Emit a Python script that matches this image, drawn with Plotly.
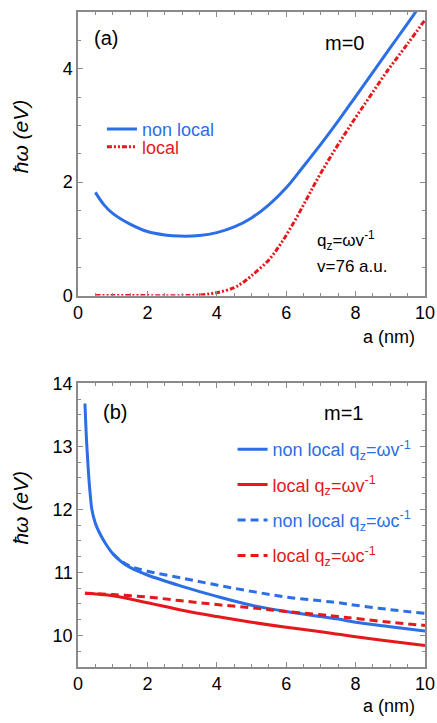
import plotly.graph_objects as go
from plotly.subplots import make_subplots

BLUE = "#2B6EE6"
RED = "#E5191B"

# Panel (a), m=0
a_nl_x = [0.5, 0.75, 1.0, 1.5, 2.0, 2.5, 2.93, 3.5, 4.0, 4.5, 5.0, 5.5, 6.0, 6.5, 7.0, 7.5, 8.0, 8.5, 9.0, 9.5, 9.73, 10.0]
a_nl_y = [1.82, 1.6, 1.45, 1.26, 1.13, 1.07, 1.05, 1.06, 1.11, 1.21, 1.37, 1.6, 1.9, 2.28, 2.67, 3.08, 3.51, 3.94, 4.37, 4.8, 5.0, 5.23]
a_l_x = [0.5, 1.0, 2.0, 3.0, 3.5, 3.98, 4.5, 4.75, 5.0, 5.5, 5.85, 6.2, 6.57, 6.85, 7.3, 7.85, 8.4, 8.96, 9.5, 10.0]
a_l_y = [0.0, 0.0, 0.0, 0.0, 0.01, 0.05, 0.14, 0.23, 0.35, 0.63, 0.92, 1.27, 1.68, 2.0, 2.47, 3.0, 3.5, 4.0, 4.44, 4.86]

# Panel (b), m=1
b_nlv_x = [0.2, 0.25, 0.3, 0.35, 0.4, 0.5, 0.6, 0.77, 1.0, 1.25, 1.5, 2.0, 3.0, 4.0, 5.0, 6.0, 7.0, 7.5, 8.0, 9.0, 10.0]
b_nlv_y = [13.68, 13.05, 12.6, 12.25, 12.0, 11.78, 11.65, 11.48, 11.3, 11.17, 11.08, 10.96, 10.78, 10.62, 10.48, 10.38, 10.3, 10.26, 10.21, 10.14, 10.07]
b_nlc_x = [1.0, 1.25, 1.5, 2.0, 3.0, 4.0, 5.0, 6.0, 7.0, 7.5, 8.0, 9.0, 10.0]
b_nlc_y = [11.3, 11.18, 11.1, 11.02, 10.91, 10.8, 10.7, 10.61, 10.55, 10.52, 10.48, 10.41, 10.35]
b_l_x = [0.2, 1.0, 2.0, 3.0, 4.0, 5.0, 6.0, 7.0, 7.5, 8.0, 9.0, 10.0]
b_lv_y = [10.67, 10.63, 10.52, 10.4, 10.3, 10.21, 10.13, 10.06, 10.02, 9.98, 9.91, 9.84]
b_lc_y = [10.67, 10.65, 10.61, 10.55, 10.49, 10.44, 10.38, 10.33, 10.3, 10.27, 10.21, 10.16]

x_ticks = [0, 2, 4, 6, 8, 10]
ya_ticks = [0, 2, 4]
yb_ticks = [10, 11, 12, 13, 14]

FONT = "Liberation Sans, Arial, Helvetica, sans-serif"

fig = make_subplots(rows=2, cols=1, vertical_spacing=0.0)

def lbl(text, color):
    return f"<span style='color:{color}'>{text}</span>"

fig.add_trace(go.Scatter(x=a_nl_x, y=a_nl_y, mode="lines", line=dict(color=BLUE, width=3, shape="spline"),
                         name=lbl("non local", BLUE), legend="legend"), row=1, col=1)
fig.add_trace(go.Scatter(x=a_l_x, y=a_l_y, mode="lines",
                         line=dict(color=RED, width=3, dash="5px,2px,2px,2px,2px,2px", shape="spline"),
                         name=lbl("local", RED), legend="legend3"), row=1, col=1)

qv = "q<sub>z</sub>=ωv<sup>-1</sup>"
qc = "q<sub>z</sub>=ωc<sup>-1</sup>"
fig.add_trace(go.Scatter(x=b_nlv_x, y=b_nlv_y, mode="lines", line=dict(color=BLUE, width=3, shape="spline"),
                         name=lbl("non local " + qv, BLUE), legend="legend2", legendgroup="b1"), row=2, col=1)
fig.add_trace(go.Scatter(x=b_l_x, y=b_lv_y, mode="lines", line=dict(color=RED, width=3, shape="spline"),
                         name=lbl("local " + qv, RED), legend="legend2", legendgroup="b2"), row=2, col=1)
fig.add_trace(go.Scatter(x=b_nlc_x, y=b_nlc_y, mode="lines", line=dict(color=BLUE, width=3, dash="8px,5px", shape="spline"),
                         name=lbl("non local " + qc, BLUE), legend="legend2", legendgroup="b3"), row=2, col=1)
fig.add_trace(go.Scatter(x=b_l_x, y=b_lc_y, mode="lines", line=dict(color=RED, width=3, dash="8px,5px", shape="spline"),
                         name=lbl("local " + qc, RED), legend="legend2", legendgroup="b4"), row=2, col=1)

axis_common = dict(showline=True, linecolor="#8a8a8a", linewidth=1.5, mirror="allticks",
                   ticks="inside", ticklen=5, tickcolor="#8a8a8a", tickwidth=1,
                   showgrid=False, zeroline=False,
                   tickfont=dict(family=FONT, size=18, color="black"))

fig.update_xaxes(range=[0, 10], tickvals=x_ticks, minor=dict(dtick=0.5, ticks="inside", ticklen=3, tickcolor="#8a8a8a"),
                 **axis_common)
fig.update_yaxes(range=[0, 5], tickvals=ya_ticks, minor=dict(dtick=0.5, ticks="inside", ticklen=3, tickcolor="#8a8a8a"),
                 row=1, col=1, **axis_common)
fig.update_yaxes(range=[9.5, 14], tickvals=yb_ticks, minor=dict(dtick=0.25, ticks="inside", ticklen=3, tickcolor="#8a8a8a"),
                 row=2, col=1, **axis_common)

W = 437 - 78 - 11
H = 723 - 2 - 56
def px(xp):
    return (xp - 78) / W
def py(yp):
    return (723 - 56 - yp) / H

leg_common = dict(xanchor="left", yanchor="middle", bgcolor="rgba(0,0,0,0)",
                  font=dict(family=FONT, size=18), itemwidth=30)

fig.update_layout(
    width=437, height=723,
    margin=dict(l=78, r=11, t=2, b=56),
    plot_bgcolor="white", paper_bgcolor="white",
    font=dict(family=FONT, size=18, color="black"),
    showlegend=True,
    legend=dict(x=px(102), y=py(121), **leg_common),
    legend3=dict(x=px(102), y=py(139), **leg_common),
    legend2=dict(x=px(233), y=py(500), tracegroupgap=9, traceorder="grouped", **leg_common),
)
fig.update_layout(
    xaxis=dict(domain=[0, 1], anchor="y"),
    yaxis=dict(domain=[0.567, 1.0]),
    xaxis2=dict(domain=[0, 1], anchor="y2"),
    yaxis2=dict(domain=[0.0, 0.433]),
)

ann = []
def add_text(x, y, text, size=19, xanchor="center", yanchor="middle", italic=False, angle=0):
    ann.append(dict(x=x, y=y, xref="paper", yref="paper", text=text, showarrow=False,
                    xanchor=xanchor, yanchor=yanchor, textangle=angle,
                    font=dict(family=FONT, size=size, color="black",
                              style="italic" if italic else "normal")))

add_text(px(106), py(28), "(a)", size=20)
add_text(px(345), py(33), "m=0", size=20)
add_text(px(115), py(408), "(b)", size=20)
add_text(px(344), py(409), "m=1", size=20)
add_text(px(316), py(234), "q<sub>z</sub>=ωv<sup>-1</sup>", size=17, xanchor="left")
add_text(px(316), py(260), "v=76 a.u.", size=17, xanchor="left")
add_text(px(390), py(332), "a (nm)", size=18)
add_text(px(390), py(707), "a (nm)", size=18)
add_text(px(20), py(128), "ħω (eV)", size=21, italic=True, angle=-90)
add_text(px(20), py(505), "ħω (eV)", size=21, italic=True, angle=-90)
fig.update_layout(annotations=ann)

fig.write_html("out.html", config={"displayModeBar": False},
               post_script="document.body.style.margin='0';")
